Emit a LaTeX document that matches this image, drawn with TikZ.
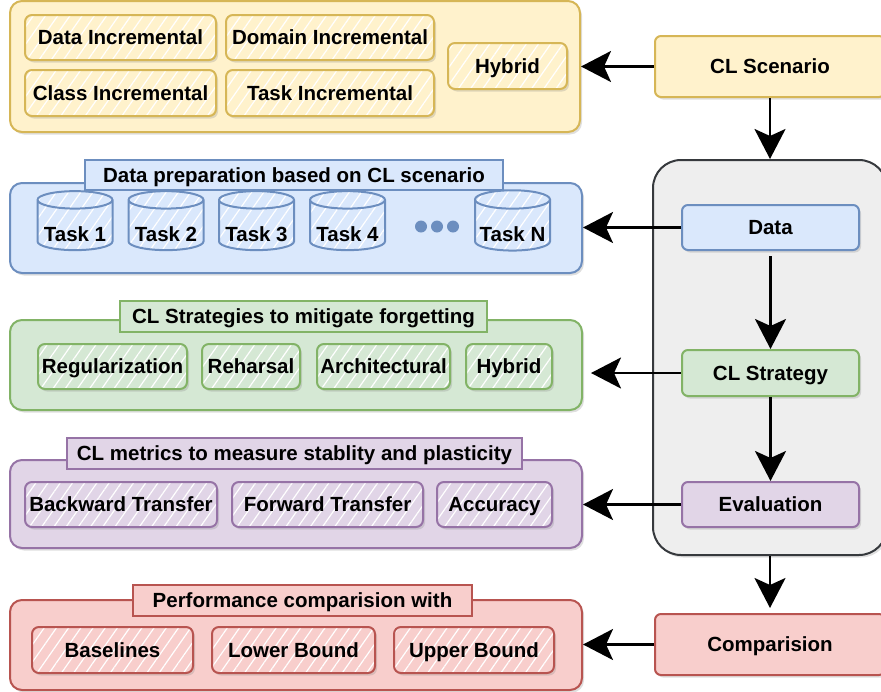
\documentclass[tikz,border=0pt]{standalone}
\usepackage{fontspec}
\setmainfont{Liberation Sans}
\usetikzlibrary{shapes.geometric,patterns.meta,shadows,arrows.meta}
\definecolor{yf}{HTML}{FFF2CC}\definecolor{ys}{HTML}{D6B656}
\definecolor{bf}{HTML}{DAE8FC}\definecolor{bs}{HTML}{6C8EBF}
\definecolor{gf}{HTML}{D5E8D4}\definecolor{gs}{HTML}{82B366}
\definecolor{pf}{HTML}{E1D5E7}\definecolor{ps}{HTML}{9673A6}
\definecolor{rf}{HTML}{F8CECC}\definecolor{rs}{HTML}{B85450}
\definecolor{cf}{HTML}{EEEEEE}\definecolor{cs}{HTML}{36393D}
\tikzset{
  sh/.style={drop shadow={shadow xshift=2pt,shadow yshift=-2.5pt,opacity=0.25}},
  txt/.style={font=\bfseries\fontsize{20.5}{24}\selectfont,text height=14.7pt,text depth=0pt,inner sep=0pt},
  outerbox/.style={draw=#1s,fill=#1f,line width=2pt,rounded corners=12pt,sh},
  titlebox/.style={draw=#1s,fill=#1f,line width=2pt,txt},
  hatch/.style={preaction={fill=#1f},preaction={pattern={Lines[angle=55,distance=10pt,line width=1.2pt]},pattern color=white}},
  hatchbox/.style={draw=#1s,line width=2pt,rounded corners=7pt,sh,hatch=#1,txt},
  stepnode/.style={draw=#1s,fill=#1f,line width=2pt,rounded corners=6pt,sh,txt},
  tasknode/.style={cylinder,shape border rotate=90,aspect=0.28,draw=bs,line width=2pt,hatch=b,
     txt,text height=31.7pt,minimum width=75pt,minimum height=59pt},
  arr/.style={line width=2.5pt,-{Stealth[length=30pt,width=31pt,inset=7pt]}},
}
\begin{document}
\begin{tikzpicture}[x=1pt,y=-1pt]
\useasboundingbox (0,0) rectangle (881,691);
% right column
\node[draw=cs,fill=cf,line width=2pt,rounded corners=28pt,sh,minimum width=234pt,minimum height=395pt] (cont) at (770,357.5) {};
\node[stepnode=y,minimum width=230pt,minimum height=61pt] (scen) at (770,66.5) {CL Scenario};
\node[stepnode=b,minimum width=177pt,minimum height=45pt] (data) at (770.5,227.5) {Data};
\node[stepnode=g,minimum width=177pt,minimum height=46pt] (strat) at (770.5,373) {CL Strategy};
\node[stepnode=p,minimum width=177pt,minimum height=45pt] (eval) at (770.5,504.5) {Evaluation};
\node[stepnode=r,minimum width=230pt,minimum height=61pt] (comp) at (770,644.5) {Comparision};

% yellow group
\node[outerbox=y,minimum width=570pt,minimum height=131pt] (ygrp) at (295,66.5) {};
\node[hatchbox=y,minimum width=191pt,minimum height=45pt] (di) at (120.5,37.5) {Data Incremental};
\node[hatchbox=y,minimum width=208pt,minimum height=45pt] (doi) at (330,37.5) {Domain Incremental};
\node[hatchbox=y,minimum width=191pt,minimum height=46pt] (ci) at (120.5,93) {Class Incremental};
\node[hatchbox=y,minimum width=208pt,minimum height=46pt] (ti) at (330,93) {Task Incremental};
\node[hatchbox=y,minimum width=119pt,minimum height=46pt] (yh) at (507.5,66) {Hybrid};

% blue group
\node[outerbox=b,minimum width=572pt,minimum height=90pt] (bgrp) at (296,228) {};
\node[titlebox=b,minimum width=418pt,minimum height=30pt] (btitle) at (294,175) {Data preparation based on CL scenario};
\node[tasknode] (t1) at (75,225.5) {Task 1};
\node[tasknode] (t2) at (166,225.5) {Task 2};
\node[tasknode] (t3) at (256.5,225.5) {Task 3};
\node[tasknode] (t4) at (347.5,225.5) {Task 4};
\node[tasknode] (tn) at (512.5,225.5) {Task N};
\foreach \xx/\nm in {421/d1,437/d2,453/d3}
  \node[circle,fill=bs,minimum size=12pt,inner sep=0pt] (\nm) at (\xx,226.5) {};

% green group
\node[outerbox=g,minimum width=572pt,minimum height=90pt] (ggrp) at (296,365) {};
\node[titlebox=g,minimum width=367pt,minimum height=31pt] (gtitle) at (303.5,316) {CL Strategies to mitigate forgetting};
\node[hatchbox=g,minimum width=149pt,minimum height=45pt] (reg) at (112.5,366.5) {Regularization};
\node[hatchbox=g,minimum width=98pt,minimum height=45pt] (reh) at (251,366.5) {Reharsal};
\node[hatchbox=g,minimum width=133pt,minimum height=45pt] (arc) at (383.5,366.5) {Architectural};
\node[hatchbox=g,minimum width=86pt,minimum height=45pt] (gh) at (509,366.5) {Hybrid};

% purple group
\node[outerbox=p,minimum width=572pt,minimum height=88pt] (pgrp) at (296,504) {};
\node[titlebox=p,minimum width=455pt,minimum height=31pt] (ptitle) at (294.5,453) {CL metrics to measure stablity and plasticity};
\node[hatchbox=p,minimum width=192pt,minimum height=45pt] (bt) at (121,504.5) {Backward Transfer};
\node[hatchbox=p,minimum width=191pt,minimum height=45pt] (ft) at (327.5,504.5) {Forward Transfer};
\node[hatchbox=p,minimum width=115pt,minimum height=45pt] (acc) at (494.5,504.5) {Accuracy};

% red group
\node[outerbox=r,minimum width=572pt,minimum height=90pt] (rgrp) at (296,645) {};
\node[titlebox=r,minimum width=339pt,minimum height=31pt] (rtitle) at (302.5,600.5) {Performance comparision with};
\node[hatchbox=r,minimum width=161pt,minimum height=46pt] (base) at (112.5,650) {Baselines};
\node[hatchbox=r,minimum width=163pt,minimum height=46pt] (lb) at (293.5,650) {Lower Bound};
\node[hatchbox=r,minimum width=160pt,minimum height=46pt] (ub) at (474,650) {Upper Bound};

% connectors
\draw[arr] (scen.west) -- (scen.west -| ygrp.east);
\draw[arr] (scen.south) -- (cont.north);
\draw[arr] (data.west) -- (data.west -| bgrp.east);
\draw[arr,shorten <=5pt] (data.south) -- (strat.north);
\draw[arr,shorten >=8pt] (strat.west) -- (strat.west -| ggrp.east);
\draw[arr] (strat.south) -- (eval.north);
\draw[arr] (eval.west) -- (eval.west -| pgrp.east);
\draw[arr,shorten >=5pt] (cont.south) -- (comp.north);
\draw[arr] (comp.west) -- (comp.west -| rgrp.east);
\end{tikzpicture}
\end{document}
